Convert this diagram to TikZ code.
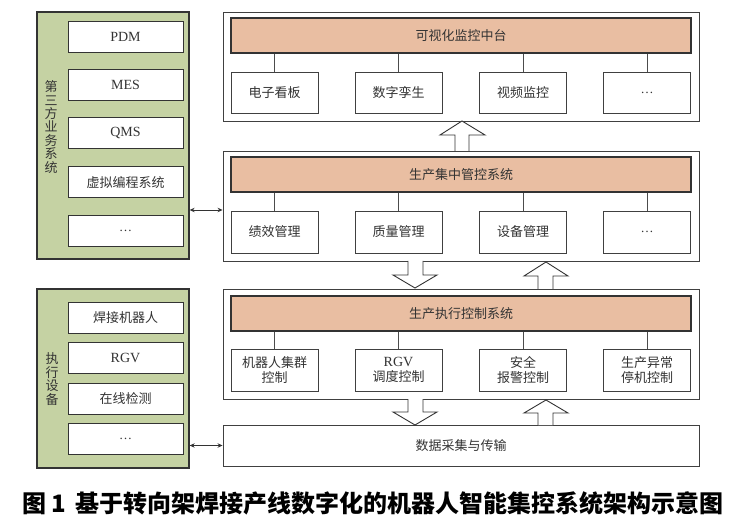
\documentclass[tikz,border=0pt]{standalone}
\usepackage{fontspec}
\setmainfont{Liberation Serif}
\newfontfamily\cjk{Noto Sans CJK SC}
\usepackage{tikz}
\usetikzlibrary{arrows.meta, positioning, calc}
\definecolor{olivegrn}{RGB}{197,210,163}
\definecolor{peach}{RGB}{233,190,162}
\definecolor{ink}{RGB}{51,51,51}
\tikzset{
  grp/.style   ={rectangle, draw=black!80, fill=olivegrn, line width=1.3pt},
  itm/.style   ={rectangle, draw=black!80, fill=white, line width=1pt,
                 minimum width=115pt, minimum height=31pt, inner sep=0pt,
                 font=\fontsize{14}{16}\selectfont, text=ink},
  lay/.style   ={rectangle, draw=black!75, fill=white, line width=0.9pt,
                 minimum width=476pt, inner sep=0pt},
  bar/.style   ={rectangle, draw=black!80, fill=peach, line width=1.1pt,
                 minimum width=460pt, minimum height=35pt, inner sep=0pt,
                 font=\cjk\fontsize{13}{15}\selectfont, text=ink},
  sub/.style   ={rectangle, draw=black!75, fill=white, line width=0.9pt,
                 minimum width=87pt, minimum height=42pt, inner sep=0pt, align=center,
                 font=\cjk\fontsize{13}{15.5}\selectfont, text=ink},
  vtxt/.style  ={align=center, inner sep=0pt, text=ink,
                 font=\cjk\fontsize{13}{13.4}\selectfont},
  lnk/.style   ={draw=black!70, line width=0.7pt},
  dar/.style   ={{Stealth[length=5pt,width=4.5pt]}-{Stealth[length=5pt,width=4.5pt]}, draw=black!80, line width=0.8pt},
  hol/.style   ={draw=black!80, fill=white, line width=0.9pt, line join=miter},
}

\begin{document}
\begin{tikzpicture}[x=1pt,y=-1pt]
\useasboundingbox (0,0) rectangle (739,529);
% left groups
\node[grp, minimum width=152pt, minimum height=247pt] (g1) at (113,135.5) {};
\node[vtxt] at (51,127) {第\\三\\方\\业\\务\\系\\统};
\node[itm] (pdm) at (125.5,37) {PDM};
\node[itm] (mes) at (125.5,85) {MES};
\node[itm] (qms) at (125.5,133.5) {QMS};
\node[itm, font=\cjk\fontsize{13}{15}\selectfont] (vps) at (125.5,182.5) {虚拟编程系统};
\node[itm, font=\fontsize{13}{15}\selectfont] (etc1) at (125.5,231) {…};

\node[grp, minimum width=152pt, minimum height=179pt] (g2) at (113,378.5) {};
\node[vtxt] at (52,379) {执\\行\\设\\备};
\node[itm, font=\cjk\fontsize{13}{15}\selectfont] (rob) at (125.5,318) {焊接机器人};
\node[itm] (rgv) at (125.5,358) {RGV};
\node[itm, font=\cjk\fontsize{13}{15}\selectfont] (chk) at (125.5,398.5) {在线检测};
\node[itm, font=\fontsize{13}{15}\selectfont] (etc2) at (125.5,438.5) {…};

% top layer
\node[lay, minimum height=109pt] (top) at (461,66.5) {};
\node[bar] (bar1) at (461,35.5) {可视化监控中台};
\node[sub, minimum height=41pt] (a1) at (274.5,92.5) {电子看板};
\node[sub, minimum height=41pt] (a2) at (398.5,92.5) {数字孪生};
\node[sub, minimum height=41pt] (a3) at (523,92.5) {视频监控};
\node[sub, minimum height=41pt, font=\fontsize{13}{15}\selectfont] (a4) at (647,92.5) {…};

% middle layer
\node[lay, minimum height=110pt] (mid) at (461,206) {};
\node[bar] (bar2) at (461,174.5) {生产集中管控系统};
\node[sub] (b1) at (274.5,232) {绩效管理};
\node[sub] (b2) at (398.5,232) {质量管理};
\node[sub] (b3) at (523,232) {设备管理};
\node[sub, font=\fontsize{13}{15}\selectfont] (b4) at (647,232) {…};

% execution layer
\node[lay, minimum height=110pt] (low) at (461,344) {};
\node[bar] (bar3) at (461,313.5) {生产执行控制系统};
\node[sub] (c1) at (274.5,370) {机器人集群\\控制};
\node[sub] (c2) at (398.5,370) {{\rmfamily\fontsize{14}{15.5}\selectfont RGV}\\调度控制};
\node[sub] (c3) at (523,370) {安全\\报警控制};
\node[sub] (c4) at (647,370) {生产异常\\停机控制};

\node[lay, minimum height=41pt, font=\cjk\fontsize{13}{15}\selectfont, text=ink] (dat) at (461,445.5) {数据采集与传输};

% bar links
\foreach \s/\b in {a1/bar1,a2/bar1,a3/bar1,a4/bar1,b1/bar2,b2/bar2,b3/bar2,b4/bar2,c1/bar3,c2/bar3,c3/bar3,c4/bar3}
  \draw[lnk] (\s.north) -- (\s.north |- \b.south);

% hollow arrows
\draw[hol] (455,151) -- (455,135) -- (440,135) -- (462,121) -- (485,135) -- (469,135) -- (469,151);
\draw[hol] (408,261) -- (408,275) -- (393,275) -- (415,288) -- (437,275) -- (423,275) -- (423,261);
\draw[hol] (538,289) -- (538,276) -- (524,276) -- (546,262) -- (568,276) -- (553,276) -- (553,289);
\draw[hol] (408,399) -- (408,412) -- (393,412) -- (415,425) -- (437,412) -- (423,412) -- (423,399);
\draw[hol] (538,425) -- (538,413) -- (524,413) -- (546,400) -- (568,413) -- (553,413) -- (553,425);

% side links
\coordinate (t1) at (0,210);
\draw[dar] (t1 -| g1.east) -- (t1 -| mid.west);
\draw[dar] (g2.east |- dat.west) -- (dat.west);

\node[font=\cjk\bfseries\fontsize{24}{26}\selectfont] (cap) at (373,503) {图 1\, 基于转向架焊接产线数字化的机器人智能集控系统架构示意图};
\end{tikzpicture}
\end{document}
